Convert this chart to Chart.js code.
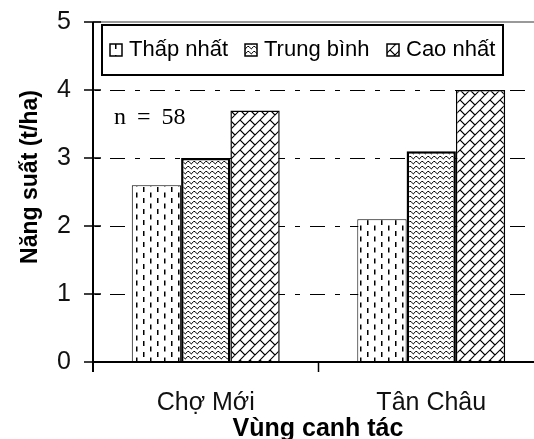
<!DOCTYPE html>
<html>
<head>
<meta charset="utf-8">
<script src="https://cdn.jsdelivr.net/npm/chart.js@4.4.1/dist/chart.umd.min.js"></script>
<style>
  html, body { margin: 0; padding: 0; background: #fff; overflow: hidden; }
  #chart { display: block; }
</style>
</head>
<body>
<canvas id="chart" width="544" height="439"></canvas>
<script>
// data
const regions = ['Chợ Mới', 'Tân Châu'];
const seriesNames = ['Thấp nhất', 'Trung bình', 'Cao nhất'];
const lowest = [2.6, 2.1];
const average = [3.0, 3.1];
const highest = [3.7, 4.0];
const yTicks = [0, 1, 2, 3, 4, 5];
const note = 'n = 58';
const xTitle = 'Vùng canh tác';
const yTitle = 'Năng suất (t/ha)';

const SANS = "'Liberation Sans', Arial, sans-serif";
const SERIF = "'Liberation Serif', 'Times New Roman', serif";

function makePattern(w, h, draw) {
    const c = document.createElement('canvas');
    c.width = w;
    c.height = h;
    const g = c.getContext('2d');
    g.fillStyle = '#fff';
    g.fillRect(0, 0, w, h);
    g.strokeStyle = '#000';
    g.fillStyle = '#000';
    draw(g);
    return document.getElementById('chart').getContext('2d').createPattern(c, 'repeat');
}

// short vertical dashes
const dashPattern = makePattern(14, 11, g => {
    g.fillRect(3, 0, 1.5, 5);
    g.fillRect(10, 5.5, 1.5, 5);
});

// wavy lines
const wavePattern = makePattern(6, 5, g => {
    g.lineWidth = 1;
    g.beginPath();
    g.moveTo(-0.5, 3.8);
    g.lineTo(1.5, 1.5);
    g.lineTo(3, 1.5);
    g.lineTo(5, 3.8);
    g.lineTo(6.5, 3.8);
    g.stroke();
});

// diagonal bricks
const brickPattern = makePattern(20, 20, g => {
    g.lineWidth = 1.1;
    g.beginPath();
    for (let b = -2; b <= 5; b++) {
        const c = 10 * b;
        g.moveTo(c + 30, -30);
        g.lineTo(c - 30, 30);
        for (let s = -30; s <= 40; s += 10) {
            g.moveTo(s, c - s);
            g.lineTo(s + 5, c - s + 5);
        }
    }
    g.stroke();
});

const fills = [dashPattern, wavePattern, brickPattern];
const borders = [1, 2.5, 1.5];

const decorations = {
    id: 'decorations',
    beforeDatasetsDraw(chart) {
        const { ctx, chartArea: a, scales: { y } } = chart;
        ctx.save();
        // dash-dot grid lines
        ctx.strokeStyle = '#000';
        ctx.lineWidth = 1;
        ctx.setLineDash([5, 10, 15, 10]);
        [1, 2, 3, 4].forEach(v => {
            const py = Math.round(y.getPixelForValue(v)) + 0.5;
            ctx.beginPath();
            ctx.moveTo(a.left + 2, py);
            ctx.lineTo(a.right, py);
            ctx.stroke();
        });
        ctx.setLineDash([]);
        // top border of plot area
        ctx.strokeStyle = '#999';
        ctx.lineWidth = 2;
        ctx.beginPath();
        ctx.moveTo(a.left, a.top);
        ctx.lineTo(a.right, a.top);
        ctx.stroke();
        ctx.restore();
    },
    afterDatasetsDraw(chart) {
        const { ctx, chartArea: a, scales: { x, y } } = chart;
        ctx.save();
        ctx.strokeStyle = '#000';
        ctx.lineWidth = 2;
        // axes
        ctx.beginPath();
        ctx.moveTo(a.left, a.top);
        ctx.lineTo(a.left, a.bottom + 10);
        ctx.moveTo(a.left, a.bottom);
        ctx.lineTo(a.right, a.bottom);
        ctx.stroke();
        // y ticks crossing the axis
        ctx.lineWidth = 1.5;
        ctx.beginPath();
        yTicks.forEach(v => {
            const py = y.getPixelForValue(v);
            ctx.moveTo(a.left - 9, py);
            ctx.lineTo(a.left + 8, py);
        });
        // x tick between the categories
        const mid = (x.getPixelForValue(0) + x.getPixelForValue(1)) / 2;
        ctx.moveTo(mid, a.bottom);
        ctx.lineTo(mid, a.bottom + 10);
        ctx.stroke();

        // legend box
        const lx = 102, ly = 25, lw = 401, lh = 50;
        ctx.fillStyle = '#fff';
        ctx.fillRect(lx, ly, lw, lh);
        ctx.lineWidth = 2;
        ctx.strokeRect(lx, ly, lw, lh);
        const boxX = [110, 245, 387];
        ctx.font = '22px ' + SANS;
        ctx.textBaseline = 'middle';
        ctx.textAlign = 'left';
        seriesNames.forEach((name, i) => {
            ctx.fillStyle = fills[i];
            ctx.fillRect(boxX[i], 44, 12, 12);
            ctx.lineWidth = 1.5;
            ctx.strokeRect(boxX[i], 44, 12, 12);
            ctx.fillStyle = '#000';
            ctx.fillText(name, boxX[i] + 19, 50);
        });

        // sample size note
        ctx.font = '24px ' + SERIF;
        ctx.wordSpacing = '5px';
        ctx.fillStyle = '#000';
        ctx.fillText(note, 114, 118);
        ctx.wordSpacing = '0px';

        // axis titles
        ctx.font = 'bold 25px ' + SANS;
        ctx.textAlign = 'center';
        ctx.textBaseline = 'alphabetic';
        ctx.fillText(xTitle, 318, 436);
        ctx.save();
        ctx.translate(37, 177);
        ctx.rotate(-Math.PI / 2);
        ctx.font = 'bold 23px ' + SANS;
        ctx.fillText(yTitle, 0, 0);
        ctx.restore();
        ctx.restore();
    }
};

new Chart(document.getElementById('chart'), {
    type: 'bar',
    data: {
        labels: regions,
        datasets: [lowest, average, highest].map((values, i) => ({
            label: seriesNames[i],
            data: values,
            backgroundColor: fills[i],
            borderColor: '#000',
            borderWidth: borders[i],
            borderSkipped: 'bottom',
            categoryPercentage: 0.656,
            barPercentage: 1.0
        }))
    },
    options: {
        responsive: false,
        animation: false,
        layout: { padding: { top: 22, left: 0, right: 0, bottom: 0 } },
        plugins: {
            legend: { display: false },
            tooltip: { enabled: false }
        },
        scales: {
            x: {
                grid: { display: false, drawTicks: false },
                border: { display: false },
                ticks: { font: { size: 25, family: SANS }, color: '#111', padding: 26 },
                afterFit: s => { s.height = 77; }
            },
            y: {
                min: 0,
                max: 5,
                grid: { display: false, drawTicks: false },
                border: { display: false },
                ticks: {
                    stepSize: 1,
                    font: { size: 25, family: SANS },
                    color: '#111',
                    padding: 22
                },
                afterFit: s => { s.width = 93; s.paddingTop = 0; s.paddingBottom = 0; }
            }
        }
    },
    plugins: [decorations]
});
</script>
</body>
</html>
